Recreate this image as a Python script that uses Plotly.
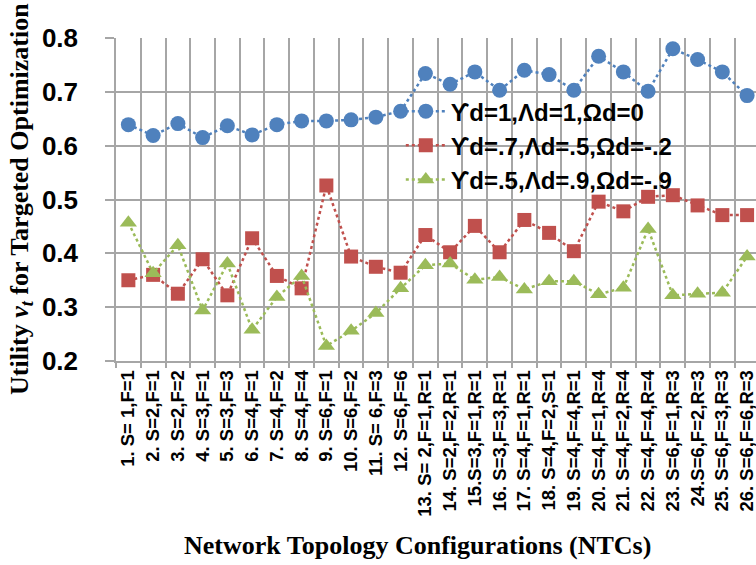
import plotly.graph_objects as go

categories = ["1. S= 1,F=1", "2. S=2,F=1", "3. S=2,F=2", "4. S=3,F=1", "5. S=3,F=3",
              "6. S=4,F=1", "7. S=4,F=2", "8. S=4,F=4", "9. S=6,F=1", "10. S=6,F=2",
              "11. S= 6,F=3", "12. S=6,F=6", "13. S= 2,F=1,R=1", "14. S=2,F=2,R=1",
              "15.S=3,F=1,R=1", "16. S=3,F=3,R=1", "17. S=4,F=1,R=1", "18. S=4,F=2,S=1",
              "19. S=4,F=4,R=1", "20. S=4,F=1,R=4", "21. S=4,F=2,R=4", "22. S=4,F=4,R=4",
              "23. S=6,F=1,R=3", "24.S=6,F=2,R=3", "25. S=6,F=3,R=3", "26. S=6,F=6,R=3"]

series_names = ["ϒd=1,Λd=1,Ωd=0", "ϒd=.7,Λd=.5,Ωd=-.2", "ϒd=.5,Λd=.9,Ωd=-.9"]

blue = [0.639, 0.619, 0.641, 0.615, 0.637, 0.620, 0.639, 0.646, 0.646, 0.648,
        0.653, 0.664, 0.734, 0.714, 0.737, 0.703, 0.740, 0.732, 0.703, 0.766,
        0.737, 0.701, 0.780, 0.760, 0.737, 0.693]
red = [0.350, 0.360, 0.325, 0.389, 0.322, 0.428, 0.358, 0.335, 0.526, 0.394,
       0.375, 0.364, 0.434, 0.402, 0.451, 0.402, 0.462, 0.438, 0.404, 0.496,
       0.478, 0.505, 0.508, 0.489, 0.471, 0.471]
green = [0.457, 0.363, 0.415, 0.294, 0.381, 0.258, 0.319, 0.358, 0.228, 0.256,
         0.289, 0.335, 0.378, 0.381, 0.351, 0.356, 0.333, 0.348, 0.348, 0.324,
         0.336, 0.445, 0.322, 0.325, 0.327, 0.394]

y_ticks = [0.2, 0.3, 0.4, 0.5, 0.6, 0.7, 0.8]
y_tick_text = ["0.2", "0.3", "0.4", "0.5", "0.6", "0.7", "0.8"]

colors = ["#4F81BD", "#C0504D", "#9BBB59"]
symbols = ["circle", "square", "triangle-up"]
sizes = [15, 14, 15]

fig = go.Figure()
for name, vals, c, s, sz in zip(series_names, [blue, red, green], colors, symbols, sizes):
    fig.add_trace(go.Scatter(
        x=categories, y=vals, name=name, mode="lines+markers",
        line=dict(color=c, width=2.5, dash="dot"),
        marker=dict(symbol=s, size=sz, color=c),
        cliponaxis=False,
    ))

grid_c = "#a6a6a6"
fig.update_layout(
    width=756, height=565,
    margin=dict(l=116, r=0, t=38, b=204),
    paper_bgcolor="white", plot_bgcolor="white",
    showlegend=True,
    legend=dict(
        x=0.445, y=0.842, xanchor="left", yanchor="top",
        bgcolor="rgba(0,0,0,0)",
        font=dict(family="Liberation Sans, Arial", size=24, color="black", weight="bold"),
        itemwidth=40, tracegroupgap=0,
    ),
    xaxis=dict(
        type="category", range=[-0.5, 25.36], tickson="boundaries",
        showgrid=True, gridcolor=grid_c, gridwidth=1.5,
        showline=True, linecolor=grid_c, linewidth=1.5,
        ticks="outside", ticklen=5, tickcolor=grid_c, tickwidth=1.5,
        tickangle=-90,
        tickfont=dict(family="Liberation Sans, Arial", size=18.5, color="black", weight="bold"),
    ),
    yaxis=dict(
        range=[0.2, 0.8], tickvals=y_ticks, ticktext=y_tick_text,
        showgrid=True, gridcolor=grid_c, gridwidth=1.5,
        showline=True, linecolor=grid_c, linewidth=1.5,
        ticks="outside", ticklen=9, tickcolor=grid_c, tickwidth=1.5,
        ticklabelstandoff=22,
        tickfont=dict(family="Liberation Sans, Arial", size=26, color="black", weight="bold"),
        zeroline=False,
    ),
)

fig.add_annotation(
    text="Utility <i>v<sub>t</sub></i> for Targeted Optimization",
    xref="paper", yref="paper", x=(21 - 116) / 640, y=(361 - 199) / 323,
    xanchor="center", yanchor="middle", textangle=-90, showarrow=False,
    font=dict(family="Liberation Serif, Times New Roman", size=26, color="black", weight="bold"),
)
fig.add_annotation(
    text="Network Topology Configurations (NTCs)",
    xref="paper", yref="paper", x=(417 - 116) / 640, y=(361 - 545) / 323,
    xanchor="center", yanchor="middle", showarrow=False,
    font=dict(family="Liberation Serif, Times New Roman", size=26, color="black", weight="bold"),
)

fig.write_html("out.html")
